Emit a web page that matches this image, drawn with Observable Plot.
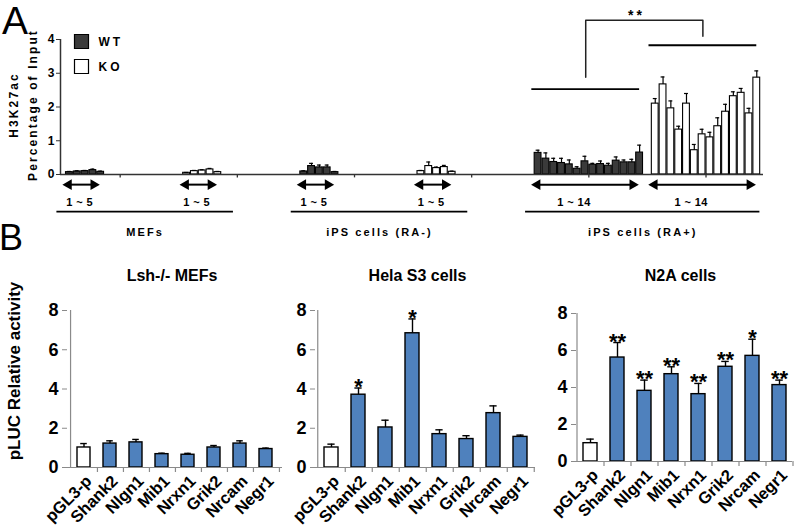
<!DOCTYPE html>
<html><head><meta charset="utf-8">
<script src="https://cdn.jsdelivr.net/npm/d3@7"></script>
<script src="https://cdn.jsdelivr.net/npm/@observablehq/plot@0.6"></script>
<style>
body{margin:0;background:#fff;font-family:"Liberation Sans",Arial,sans-serif;}
#root{position:relative;width:796px;height:529px;overflow:hidden;background:#fff;}
.letter{position:absolute;font-family:"Liberation Sans",Arial,sans-serif;line-height:1;color:#000;}
</style></head><body><div id="root"></div>
<script>
// ---------- Panel A data ----------
const cellTypesA = ["MEFs", "iPS cells (RA-)", "iPS cells (RA+)"];
const genotypes = ["WT", "KO"];
const rangeLabels = ["1 ~ 5", "1 ~ 5", "1 ~ 14"];
const yLabelA = ["H3K27ac", "Percentage of Input"];
const ticksA = [0, 1, 2, 3, 4];
const significanceA = "**";

const mefWT = [0.07, 0.09, 0.10, 0.13, 0.08];
const mefWTErr = [0.02, 0.02, 0.02, 0.03, 0.02];
const mefKO = [0.05, 0.10, 0.12, 0.15, 0.07];
const mefKOErr = [0.01, 0.02, 0.02, 0.03, 0.02];
const ipsNegWT = [0.09, 0.25, 0.21, 0.21, 0.07];
const ipsNegWTErr = [0.02, 0.08, 0.07, 0.07, 0.02];
const ipsNegKO = [0.10, 0.25, 0.19, 0.22, 0.08];
const ipsNegKOErr = [0.02, 0.12, 0.03, 0.05, 0.02];
const ipsPosWT = [0.64, 0.47, 0.37, 0.34, 0.30, 0.17, 0.39, 0.29, 0.31, 0.26, 0.41, 0.36, 0.36, 0.65];
const ipsPosWTErr = [0.08, 0.17, 0.11, 0.14, 0.13, 0.06, 0.15, 0.04, 0.09, 0.07, 0.11, 0.07, 0.09, 0.22];
const ipsPosKO = [2.10, 2.67, 1.96, 1.33, 2.10, 0.72, 1.19, 1.10, 1.43, 1.86, 2.32, 2.42, 1.81, 2.87];
const ipsPosKOErr = [0.15, 0.22, 0.22, 0.10, 0.30, 0.17, 0.15, 0.15, 0.25, 0.22, 0.13, 0.13, 0.15, 0.20];

// ---------- Panel B data ----------
const genes = ["pGL3-p", "Shank2", "Nlgn1", "Mib1", "Nrxn1", "Grik2", "Nrcam", "Negr1"];
const cellLinesB = ["Lsh-/- MEFs", "Hela S3 cells", "N2A cells"];
const yLabelB = "pLUC Relative activity";
const ticksB = [0, 2, 4, 6, 8];
const lshMEF = [1.02, 1.22, 1.28, 0.68, 0.65, 1.02, 1.22, 0.94];
const lshMEFErr = [0.20, 0.14, 0.15, 0.05, 0.07, 0.10, 0.14, 0.05];
const lshMEFStars = ["", "", "", "", "", "", "", ""];
const helaS3 = [1.02, 3.71, 2.04, 6.84, 1.70, 1.45, 2.77, 1.56];
const helaS3Err = [0.17, 0.34, 0.37, 0.73, 0.22, 0.17, 0.37, 0.09];
const helaS3Stars = ["", "*", "", "*", "", "", "", ""];
const n2a = [0.99, 5.62, 3.82, 4.72, 3.64, 5.12, 5.71, 4.13];
const n2aErr = [0.22, 0.81, 0.58, 0.40, 0.58, 0.29, 0.90, 0.27];
const n2aStars = ["", "**", "**", "**", "**", "**", "*", "**"];

const FONT = "Liberation Sans, Arial, Helvetica, sans-serif";
const root = document.getElementById("root");

// ================= Panel A =================
const SLOT = 15;
const seriesA = [
  {cell: 0, geno: genotypes[0], v: mefWT, e: mefWTErr},
  {cell: 0, geno: genotypes[1], v: mefKO, e: mefKOErr},
  {cell: 1, geno: genotypes[0], v: ipsNegWT, e: ipsNegWTErr},
  {cell: 1, geno: genotypes[1], v: ipsNegKO, e: ipsNegKOErr},
  {cell: 2, geno: genotypes[0], v: ipsPosWT, e: ipsPosWTErr},
  {cell: 2, geno: genotypes[1], v: ipsPosKO, e: ipsPosKOErr}
];
const barsA = seriesA.flatMap((s, g) => s.v.map((v, i) => ({g, geno: s.geno, v, e: s.e[i], s: g * SLOT + i})));
const groupsA = seriesA.map((s, g) => ({g, n: s.v.length, start: g * SLOT, end: g * SLOT + s.v.length, label: rangeLabels[s.cell]}));
const pairsA = cellTypesA.map((c, p) => {
  const a = groupsA[2 * p], b = groupsA[2 * p + 1];
  return {label: c, x1: a.start - 1.1, x2: b.end + (b.n > 5 ? -0.1 : 1.5)};
});
const xDomA = [-0.64, 6 * SLOT - 0.64];
const fillA = d => d.geno === "WT" ? "#3a3a3a" : "#ffffff";

const ARROW_Y = -0.3, RANGE_Y = -0.82, PAIR_LINE_Y = -1.1, PAIR_LABEL_Y = -1.71;
const rnaWT = groupsA[4], rnaKO = groupsA[5];
const lineWTy = 2.53, lineKOy = 3.83, bracketTop = 4.57;
const bracketX1 = rnaWT.start + 6.6, bracketX2 = rnaKO.start + 6.6;

const svgA = Plot.plot({
  width: 796, height: 245,
  marginLeft: 60, marginRight: 33, marginTop: 39, marginBottom: 71,
  style: {fontFamily: FONT, background: "transparent", overflow: "visible"},
  x: {type: "linear", domain: xDomA, axis: null},
  y: {domain: [0, 4], axis: null},
  marks: [
    Plot.rectY(barsA, {x1: "s", x2: d => d.s + 1, y: "v", fill: fillA, stroke: "#000", strokeWidth: 1.1, insetLeft: 0.5, insetRight: 0.5}),
    Plot.ruleX(barsA, {x: d => d.s + 0.5, y1: "v", y2: d => d.v + d.e, stroke: "#000", strokeWidth: 1.2}),
    Plot.ruleY(barsA, {y: d => d.v + d.e, x1: d => d.s + 0.25, x2: d => d.s + 0.75, stroke: "#000", strokeWidth: 1.2}),
    Plot.ruleY([0], {stroke: "#333", strokeWidth: 1.5}),
    Plot.ruleX([xDomA[0]], {y1: 0, y2: 4, stroke: "#333", strokeWidth: 1.5}),
    Plot.ruleX(groupsA, {x: d => d.start + 7, y1: 0, y2: -0.1, stroke: "#333", strokeWidth: 1.3}),
    Plot.axisY({ticks: ticksA, tickFormat: d3.format("d"), tickSize: 4, tickPadding: 2, fontSize: 12, fontWeight: "bold", stroke: "#333", fill: "#000", label: null}),
    // y label
    Plot.text([yLabelA[0]], {frameAnchor: "left", textAnchor: "middle", rotate: -90, dx: -46, dy: -2, fontSize: 12, fontWeight: "bold"}),
    Plot.text([yLabelA[1]], {frameAnchor: "left", textAnchor: "middle", rotate: -90, dx: -27, dy: -2, fontSize: 12, fontWeight: "bold"}),
    // legend
    Plot.dot([genotypes[0]], {frameAnchor: "top-left", dx: 21, dy: 2, symbol: "square", r: 7.9, fill: "#3a3a3a", stroke: "#000", strokeWidth: 1.2}),
    Plot.dot([genotypes[1]], {frameAnchor: "top-left", dx: 21, dy: 27, symbol: "square", r: 7.9, fill: "#fff", stroke: "#000", strokeWidth: 1.2}),
    Plot.text([genotypes[0]], {frameAnchor: "top-left", dx: 38, dy: 3, textAnchor: "start", lineAnchor: "middle", fontSize: 12, fontWeight: "bold"}),
    Plot.text([genotypes[1]], {frameAnchor: "top-left", dx: 38, dy: 28, textAnchor: "start", lineAnchor: "middle", fontSize: 12, fontWeight: "bold"}),
    // range arrows under each group
    Plot.ruleY(groupsA, {y: ARROW_Y, x1: d => d.start + 0.4, x2: d => d.end - 1.4, stroke: "#000", strokeWidth: 2}),
    Plot.dot(groupsA, {x: d => d.start + 0.4, y: ARROW_Y, symbol: "triangle", rotate: -90, r: 4, fill: "#000"}),
    Plot.dot(groupsA, {x: d => d.end - 1.4, y: ARROW_Y, symbol: "triangle", rotate: 90, r: 4, fill: "#000"}),
    Plot.text(groupsA, {x: d => (d.start + d.end) / 2 - (d.n > 5 ? 1.9 : 0.7), y: RANGE_Y, text: "label", fontSize: 11, fontWeight: "bold"}),
    // cell type lines and labels
    Plot.ruleY(pairsA, {y: PAIR_LINE_Y, x1: "x1", x2: "x2", stroke: "#000", strokeWidth: 1.6}),
    Plot.text(pairsA, {x: d => (d.x1 + d.x2) / 2, y: PAIR_LABEL_Y, text: "label", fontSize: 11, fontWeight: "bold"}),
    // significance annotation
    Plot.ruleY([lineWTy], {x1: rnaWT.start - 0.3, x2: rnaWT.end - 0.5, stroke: "#000", strokeWidth: 1.8}),
    Plot.ruleY([lineKOy], {x1: rnaKO.start - 0.3, x2: rnaKO.end - 0.5, stroke: "#000", strokeWidth: 1.8}),
    Plot.line([[bracketX1, lineWTy + 0.35], [bracketX1, bracketTop], [bracketX2, bracketTop], [bracketX2, lineKOy + 0.27]], {stroke: "#222", strokeWidth: 1.5}),
    Plot.text([significanceA], {x: (bracketX1 + bracketX2) / 2 - 1, y: bracketTop + 0.14, fontSize: 14, fontWeight: "bold"})
  ]
});
svgA.id = "panelA";
svgA.style.position = "absolute"; svgA.style.left = "0px"; svgA.style.top = "0px";
d3.select(svgA).selectAll("text").each(function () {
  const t = this.textContent;
  if (/^1 ~/.test(t)) this.style.letterSpacing = "0.4px";
  else if (t === "WT" || t === "KO") this.style.letterSpacing = "3px";
  else if (t === "**") this.style.letterSpacing = "3px";
  else if (t.length > 1) this.style.letterSpacing = "2.1px";
});
root.appendChild(svgA);

// ================= Panel B =================
function panelB(cfg) {
  const {name, vals, errs, stars, left, width, ml, mr, mt, mb, yLabel, titleDx} = cfg;
  const H = 284;
  const rows = genes.map((g, i) => ({g, v: vals[i], e: errs[i], s: stars[i]}));
  const step = (width - ml - mr) / genes.length;
  const bw = step * 0.5;
  const pxPerUnit = (H - mt - mb) / 8;
  const marks = [
    Plot.barY(rows, {x: "g", y: "v", fill: d => d.g === genes[0] ? "#ffffff" : "#4F81BD", stroke: "#000", strokeWidth: 1.4}),
    Plot.ruleX(rows, {x: "g", y1: "v", y2: d => d.v + d.e, stroke: "#000", strokeWidth: 1.4}),
    Plot.tickY(rows, {x: "g", y: d => d.v + d.e, insetLeft: (bw - 7) / 2, insetRight: (bw - 7) / 2, stroke: "#000", strokeWidth: 1.4}),
    Plot.ruleY([0], {stroke: "#8a8a8a", strokeWidth: 1.2}),
    Plot.ruleX([genes[0]], {x: d => d, y1: 0, y2: 8, dx: -step / 2, stroke: "#8a8a8a", strokeWidth: 1.2}),
    Plot.ruleX(genes, {x: d => d, y1: 0, y2: -5 / pxPerUnit, dx: step / 2, stroke: "#8a8a8a", strokeWidth: 1.2}),
    Plot.axisY({ticks: ticksB, tickFormat: d3.format("d"), tickSize: 5, tickPadding: 4, fontSize: 18, fontWeight: "bold", stroke: "#8a8a8a", fill: "#000", label: null}),
    Plot.text(rows, {x: "g", y: 0, text: "g", rotate: -45, textAnchor: "end", lineAnchor: "middle", dx: 5, dy: 11, fontSize: 16.5, fontWeight: "bold"}),
    Plot.text(rows.filter(d => d.s), {x: "g", y: d => d.v + d.e, text: "s", lineAnchor: "bottom", dy: 6, fontSize: 22, fontWeight: "bold"}),
    Plot.text([name], {frameAnchor: "top", dx: titleDx, dy: -(mt - 30), lineAnchor: "middle", fontSize: 16, fontWeight: "bold"})
  ];
  if (yLabel) marks.push(Plot.text([yLabel], {frameAnchor: "left", textAnchor: "middle", rotate: -90, dx: -53, dy: -18, fontSize: 17, fontWeight: "bold"}));
  const svg = Plot.plot({
    width, height: H, marginLeft: ml, marginRight: mr, marginTop: mt, marginBottom: mb,
    style: {fontFamily: FONT, background: "transparent", overflow: "visible"},
    x: {type: "band", domain: genes, paddingInner: 0.5, paddingOuter: 0.25, axis: null},
    y: {domain: [0, 8], axis: null},
    marks
  });
  svg.style.position = "absolute"; svg.style.left = left + "px"; svg.style.top = "245px";
  root.appendChild(svg);
}
panelB({name: cellLinesB[0], vals: lshMEF, errs: lshMEFErr, stars: lshMEFStars, left: 0, width: 290, ml: 67, mr: 8, mt: 65, mb: 62, yLabel: yLabelB, titleDx: -3});
panelB({name: cellLinesB[1], vals: helaS3, errs: helaS3Err, stars: helaS3Stars, left: 280, width: 260, ml: 35, mr: 5, mt: 65, mb: 62, yLabel: null, titleDx: -8});
panelB({name: cellLinesB[2], vals: n2a, errs: n2aErr, stars: n2aStars, left: 540, width: 256, ml: 36, mr: 4, mt: 68, mb: 68, yLabel: null, titleDx: -4});

// panel letters
const la = document.createElement("div"); la.className = "letter"; la.textContent = "A";
la.style.cssText += "left:2px;top:1px;font-size:39px;";
root.appendChild(la);
const lb = document.createElement("div"); lb.className = "letter"; lb.textContent = "B";
lb.style.cssText += "left:-1px;top:220px;font-size:36px;";
root.appendChild(lb);
</script></body></html>
